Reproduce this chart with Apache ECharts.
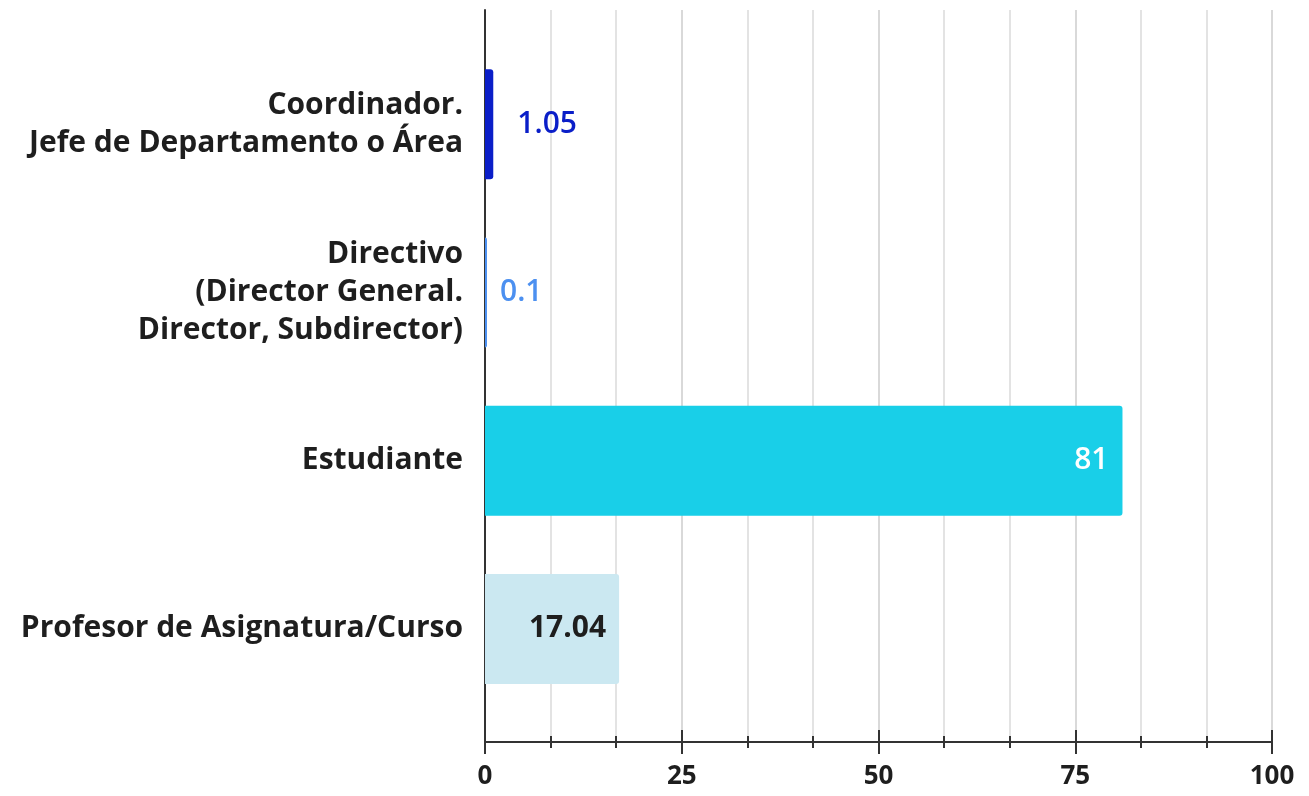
<!DOCTYPE html>
<html>
<head>
<meta charset="utf-8">
<script src="https://cdn.jsdelivr.net/npm/echarts@6/dist/echarts.min.js"></script>
<style>html,body{margin:0;padding:0;background:#fff}#c{width:1309px;height:796px}</style>
</head>
<body>
<div id="c"></div>
<script>
const categories = [
  'Coordinador.\nJefe de Departamento o Área',
  'Directivo\n(Director General.\nDirector, Subdirector)',
  'Estudiante',
  'Profesor de Asignatura/Curso'
];
const values = [1.05, 0.1, 81, 17.04];
const valueLabels = ['1.05', '0.1', '81', '17.04'];
const axisMin = 0, axisMax = 100, axisInterval = 25;

const barColors = ['#0a1ec8', '#4c90f0', '#19cfe8', '#cbe8f1'];
const labelColors = ['#0a1ec8', '#4c90f0', '#ffffff', '#1e1e1e'];
const labelPos = ['right', 'right', 'insideRight', 'insideRight'];
const labelDist = [24, 13, 14, 13];

const FONT = '"Open Sans"';
const data = values.map((v, i) => ({
  value: v,
  itemStyle: { color: barColors[i] },
  label: {
    show: true, position: labelPos[i], distance: labelDist[i],
    color: labelColors[i], formatter: valueLabels[i],
    fontSize: 30, fontWeight: i === 3 ? 700 : 600, fontFamily: FONT
  }
}));

const chart = echarts.init(document.getElementById('c'));
chart.setOption({
  animation: false,
  grid: [
    { left: 485, right: 37, top: 10, bottom: 54 },
    { left: 485, right: 37, top: 40, bottom: 83 }
  ],
  xAxis: [
    {
      gridIndex: 0, type: 'value', min: axisMin, max: axisMax, interval: axisInterval,
      axisLine: { show: true, lineStyle: { color: '#333', width: 2 } },
      axisTick: { show: true, length: 12, inside: false, lineStyle: { color: '#333', width: 2 } },
      minorTick: { show: true, splitNumber: 3, length: 6, lineStyle: { color: '#333', width: 2 } },
      splitLine: { show: true, lineStyle: { color: '#d9d9d9', width: 2 } },
      minorSplitLine: { show: true, lineStyle: { color: '#e3e3e3', width: 2 } },
      axisLabel: { show: true, margin: 22, fontSize: 26, fontWeight: 700, color: '#1e1e1e', fontFamily: FONT }
    },
    {
      gridIndex: 0, type: 'value', min: axisMin, max: axisMax, interval: axisInterval, position: 'bottom',
      axisLine: { show: false },
      axisTick: { show: true, length: 12, inside: true, lineStyle: { color: '#333', width: 2 } },
      minorTick: { show: true, splitNumber: 3, length: 6, lineStyle: { color: '#333', width: 2 } },
      splitLine: { show: false },
      axisLabel: { show: false }
    },
    {
      gridIndex: 1, type: 'value', min: axisMin, max: axisMax, show: false
    }
  ],
  yAxis: [
    {
      gridIndex: 0, type: 'value', min: 0, max: 1,
      axisLine: { show: true, lineStyle: { color: '#333', width: 2 } },
      axisTick: { show: false }, axisLabel: { show: false }, splitLine: { show: false }
    },
    {
      gridIndex: 1, type: 'category', data: categories, inverse: true,
      axisLine: { show: false }, axisTick: { show: false }, splitLine: { show: false },
      axisLabel: { margin: 22, fontSize: 30, fontWeight: 700, color: '#1e1e1e', lineHeight: 38, fontFamily: FONT, align: 'right' }
    }
  ],
  series: [
    {
      type: 'bar', xAxisIndex: 2, yAxisIndex: 1, data: data, barWidth: 110, barMinHeight: 2,
      itemStyle: { borderRadius: [0, 3, 3, 0] }
    }
  ]
});
</script>
</body>
</html>
